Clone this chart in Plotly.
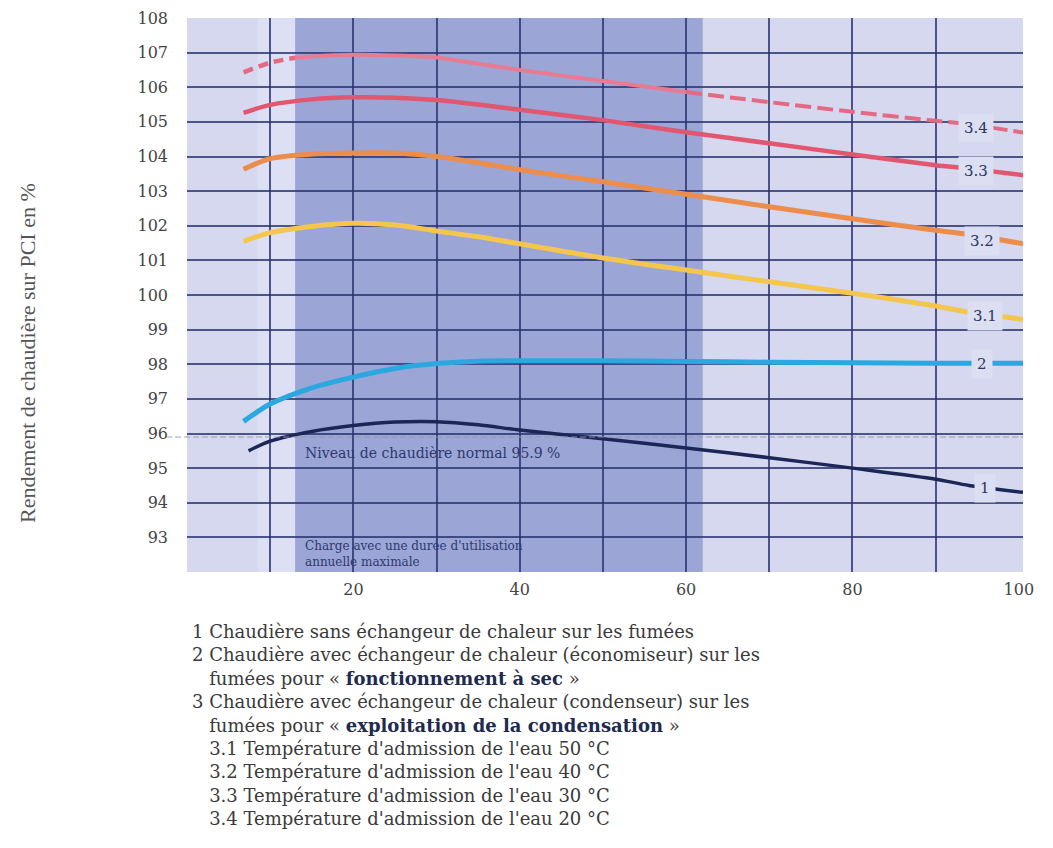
import plotly.graph_objects as go

# ---- data (load %, efficiency on PCI %) ----
x_1 = [7.4, 10, 15, 20, 25, 30, 35, 40, 50, 60, 70, 80, 90, 94, 100.5]
y_1 = [95.5, 95.78, 96.06, 96.23, 96.33, 96.34, 96.25, 96.1, 95.85, 95.58, 95.3, 95.0, 94.68, 94.5, 94.3]

x_2 = [6.8, 10, 15, 20, 25, 30, 35, 40, 50, 60, 70, 80, 90, 94, 100.5]
y_2 = [96.35, 96.85, 97.32, 97.63, 97.88, 98.02, 98.09, 98.1, 98.1, 98.08, 98.06, 98.04, 98.03, 98.03, 98.03]

x_31 = [6.8, 10, 15, 20, 25, 30, 35, 40, 50, 60, 70, 80, 90, 94, 100.5]
y_31 = [101.55, 101.8, 101.98, 102.07, 102.02, 101.85, 101.68, 101.48, 101.07, 100.72, 100.38, 100.05, 99.68, 99.5, 99.3]

x_32 = [6.8, 10, 15, 20, 25, 30, 35, 40, 50, 60, 70, 80, 90, 94, 100.5]
y_32 = [103.63, 103.94, 104.07, 104.1, 104.1, 104.0, 103.82, 103.62, 103.27, 102.91, 102.55, 102.2, 101.87, 101.75, 101.48]

x_33 = [6.8, 10, 15, 20, 25, 30, 35, 40, 50, 60, 70, 80, 90, 94, 100.5]
y_33 = [105.26, 105.49, 105.65, 105.71, 105.7, 105.63, 105.5, 105.35, 105.05, 104.7, 104.38, 104.06, 103.75, 103.65, 103.46]

x_34 = [6.8, 10, 13, 15, 20, 25, 30, 35, 40, 50, 60, 70, 80, 90, 94, 100.5]
y_34 = [106.43, 106.71, 106.85, 106.89, 106.94, 106.92, 106.86, 106.68, 106.5, 106.18, 105.86, 105.57, 105.29, 105.03, 104.93, 104.69]

curve_labels = ["1", "2", "3.1", "3.2", "3.3", "3.4"]
label_x = [95.9, 95.6, 95.9, 95.6, 94.8, 94.8]
label_y = [94.42, 98.0, 99.4, 101.57, 103.57, 104.83]

normal_level = 95.9
band_start, band_end = 13, 62
x_ticks = [20, 40, 60, 80, 100]
y_ticks = list(range(93, 109))
x_grid = list(range(10, 100, 10))
y_grid = list(range(93, 108))

legend_lines = [
    "1 Chaudière sans échangeur de chaleur sur les fumées",
    "2 Chaudière avec échangeur de chaleur (économiseur) sur les",
    "\u00a0\u00a0\u00a0fumées pour « <b style='color:#1e2a50'>fonctionnement à sec</b> »",
    "3 Chaudière avec échangeur de chaleur (condenseur) sur les",
    "\u00a0\u00a0\u00a0fumées pour « <b style='color:#1e2a50'>exploitation de la condensation</b> »",
    "\u00a0\u00a0\u00a03.1 Température d'admission de l'eau 50 °C",
    "\u00a0\u00a0\u00a03.2 Température d'admission de l'eau 40 °C",
    "\u00a0\u00a0\u00a03.3 Température d'admission de l'eau 30 °C",
    "\u00a0\u00a0\u00a03.4 Température d'admission de l'eau 20 °C",
]

SERIF = "DejaVu Serif"
fig = go.Figure()

def line(x, y, color, width, dash="solid"):
    fig.add_trace(go.Scatter(x=x, y=y, mode="lines",
                             line=dict(color=color, width=width, dash=dash, shape="spline", smoothing=0.8),
                             hoverinfo="skip", showlegend=False))

line(x_1, y_1, "#1c2657", 3.5)
line(x_2, y_2, "#2aa8e0", 5)
line(x_31, y_31, "#f5c64e", 5)
line(x_32, y_32, "#ec8d4c", 5)
line(x_33, y_33, "#e2566f", 4.5)
line(x_34[:3], y_34[:3], "#e46a84", 4.5, dash="10px,6px")
line(x_34[2:11], y_34[2:11], "#e87a92", 4)
line(x_34[10:], y_34[10:], "#e46a84", 4, dash="16px,6px")

shapes = [
    dict(type="rect", xref="x", yref="paper", x0=8.5, x1=band_start, y0=0, y1=1,
         fillcolor="#dde0f4", line=dict(width=0), layer="below"),
    dict(type="rect", xref="x", yref="paper", x0=band_start, x1=band_end, y0=0, y1=1,
         fillcolor="#9ba6d6", line=dict(width=0), layer="below"),
    dict(type="line", xref="paper", yref="y", x0=-0.025, x1=1, y0=normal_level, y1=normal_level,
         line=dict(color="rgba(150,150,170,0.6)", width=1.5, dash="6px,3px"), layer="above"),
]

annotations = []
for t, lx, ly in zip(curve_labels, label_x, label_y):
    annotations.append(dict(x=lx, y=ly, xref="x", yref="y", text=t, showarrow=False,
                            font=dict(family=SERIF, size=15, color="#2c3560"),
                            bgcolor="#dcdef2", borderpad=5))

annotations += [
    dict(x=13.9, y=95.43, xref="x", yref="y", text="Niveau de chaudière normal 95.9 %", showarrow=False,
         xanchor="left", font=dict(family=SERIF, size=14, color="#2d3870")),
    dict(x=13.9, y=92.53, xref="x", yref="y",
         text="Charge avec une durée d'utilisation<br>annuelle maximale", showarrow=False,
         xanchor="left", align="left", font=dict(family=SERIF, size=12, color="#2d3870")),
    dict(x=-0.191, y=0.396, xref="paper", yref="paper", text="Rendement de chaudière sur PCI en %",
         textangle=-90, showarrow=False, xanchor="center", yanchor="middle",
         font=dict(family="Liberation Serif", size=22, color="#555555")),
    dict(x=0.004, y=-0.085, xref="paper", yref="paper", xanchor="left", yanchor="top", align="left",
         text="<br>".join(legend_lines), showarrow=False,
         font=dict(family=SERIF, size=18, color="#3a3a3a")),
]

fig.update_layout(
    width=1045, height=840,
    margin=dict(l=179, r=30, t=10, b=276, autoexpand=False),
    paper_bgcolor="white", plot_bgcolor="#d5d8ef",
    shapes=shapes, annotations=annotations,
    xaxis=dict(range=[0, 100.5], tickmode="array", tickvals=x_ticks, showgrid=False, zeroline=False,
               showline=False, ticks="", ticklabelstandoff=6, automargin=False,
               ticklabeloverflow="allow",
               tickfont=dict(family=SERIF, size=16, color="#444444"),
               minor=dict(tickmode="array", tickvals=x_grid, showgrid=True,
                          gridcolor="rgba(40,50,110,0.8)", gridwidth=1.6)),
    yaxis=dict(range=[92, 108], tickmode="array", tickvals=y_ticks, showgrid=False, zeroline=False,
               showline=False, ticks="", ticklabelstandoff=18, automargin=False,
               ticklabeloverflow="allow",
               tickfont=dict(family=SERIF, size=16, color="#444444"),
               minor=dict(tickmode="array", tickvals=y_grid, showgrid=True,
                          gridcolor="rgba(40,50,110,0.8)", gridwidth=1.6)),
)

fig.write_html("out.html")
